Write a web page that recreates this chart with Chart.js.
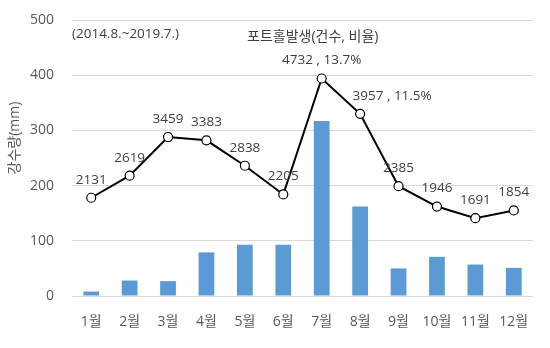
<!DOCTYPE html>
<html>
<head>
<meta charset="utf-8">
<script src="https://cdn.jsdelivr.net/npm/chart.js@4.4.1/dist/chart.umd.min.js"></script>
<style>
  html, body { margin: 0; padding: 0; background: #fff; }
  #wrap { width: 550px; height: 348px; }
</style>
</head>
<body>
<div id="wrap"><canvas id="chart"></canvas></div>
<script>
// monthly rainfall (mm) and pothole occurrences, 2014.8 ~ 2019.7
const months = ['1월', '2월', '3월', '4월', '5월', '6월', '7월', '8월', '9월', '10월', '11월', '12월'];
const rainfall = [8, 28, 27, 79, 93, 93, 317, 162, 50, 71, 57, 51];
const potholeLine = [178, 218, 288, 282, 236, 184, 394, 330, 199, 162, 141, 155];
const potholeLabels = ['2131', '2619', '3459', '3383', '2838', '2205', '4732 , 13.7%', '3957 , 11.5%', '2385', '1946', '1691', '1854'];
const yTicks = [0, 100, 200, 300, 400, 500];

const FONT = "'Open Sans', 'Noto Sans CJK KR', sans-serif";
const TXT = '#404040';

const textPlugin = {
  id: 'texts',
  afterDatasetsDraw(chart) {
    const ctx = chart.ctx;
    const area = chart.chartArea;
    ctx.save();
    ctx.fillStyle = TXT;
    ctx.textBaseline = 'middle';

    // point labels
    ctx.font = '13.5px ' + FONT;
    ctx.textAlign = 'center';
    const meta = chart.getDatasetMeta(1);
    meta.data.forEach((pt, i) => {
      let dx = 0;
      if (i === 7) dx = 32;
      ctx.fillText(potholeLabels[i], pt.x + dx, pt.y - 18);
    });

    // notes inside plot
    ctx.textAlign = 'left';
    ctx.fillText('(2014.8.~2019.7.)', area.left, area.top + 14);
    ctx.font = '14px ' + FONT;
    ctx.fillText('포트홀발생(건수, 비율)', area.left + 175, area.top + 17);

    // y title
    ctx.translate(15, area.top + 118);
    ctx.rotate(-Math.PI / 2);
    ctx.textAlign = 'center';
    ctx.fillStyle = '#595959';
    ctx.fillText('강수량(mm)', 0, 0);
    ctx.restore();
  }
};

new Chart(document.getElementById('chart'), {
  data: {
    labels: months,
    datasets: [
      {
        type: 'bar',
        data: rainfall,
        backgroundColor: '#5B9BD5',
        barPercentage: 0.41,
        categoryPercentage: 1,
        order: 2
      },
      {
        type: 'line',
        data: potholeLine,
        borderColor: '#000',
        borderWidth: 2,
        pointBackgroundColor: '#fff',
        pointBorderColor: '#000',
        pointBorderWidth: 1.2,
        pointRadius: 4.5,
        tension: 0,
        order: 1
      }
    ]
  },
  options: {
    responsive: true,
    maintainAspectRatio: false,
    animation: false,
    layout: { padding: { top: 20, right: 17, bottom: 0, left: 0 } },
    plugins: { legend: { display: false }, tooltip: { enabled: false } },
    scales: {
      x: {
        grid: { display: false },
        border: { display: false },
        ticks: { color: '#595959', font: { family: FONT, size: 14 }, padding: 10 },
        afterFit(scale) { scale.height = 52; }
      },
      y: {
        min: 0, max: 500,
        afterBuildTicks(scale) { scale.ticks = yTicks.map(v => ({ value: v })); },
        grid: { color: '#D9D9D9', lineWidth: 1, drawTicks: false },
        border: { display: false },
        ticks: { color: '#595959', font: { family: FONT, size: 14 }, padding: 18 },
        afterFit(scale) { scale.width = 72; scale.paddingTop = 0; scale.paddingBottom = 0; }
      }
    }
  },
  plugins: [textPlugin]
});
</script>
</body>
</html>
